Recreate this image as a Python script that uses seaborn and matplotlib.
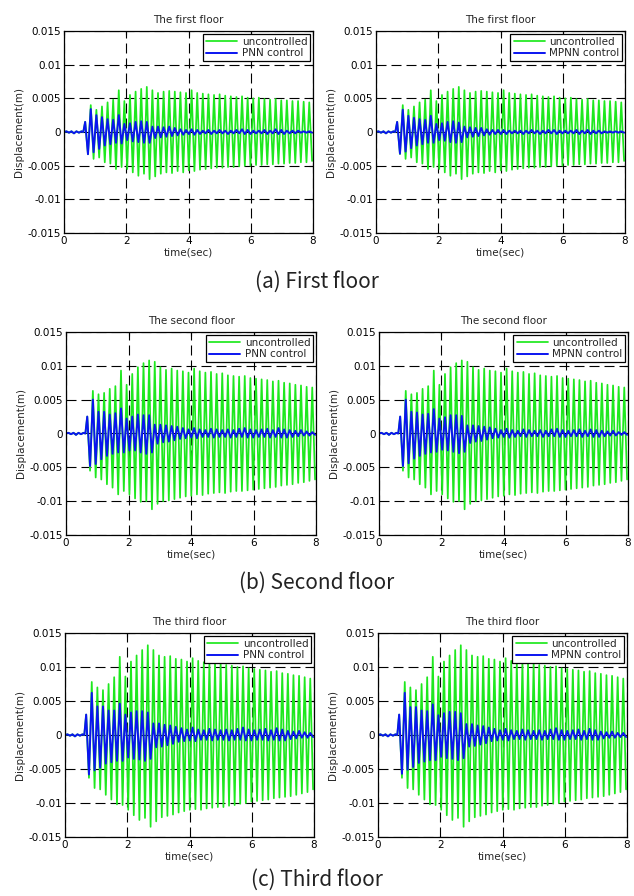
import numpy as np
import pandas as pd
import seaborn as sns
import matplotlib.pyplot as plt

# ---- data (peaks / troughs of each response) ----
pre_times = [0.0, 0.08, 0.16, 0.24, 0.32, 0.40, 0.48, 0.56, 0.62]
pre_vals = [0.0, 0.0001, -0.0001, 0.0001, -0.0002, 0.0001, -0.0001, 0.0001, 0.0]

hi_times = [0.68, 0.86, 1.04, 1.22, 1.40, 1.58, 1.76, 1.94, 2.12, 2.30, 2.48, 2.66, 2.84, 3.02,
            3.20, 3.38, 3.56, 3.74, 3.92, 4.10, 4.28, 4.46, 4.64, 4.82, 5.00, 5.18, 5.36, 5.54,
            5.72, 5.90, 6.08, 6.26, 6.44, 6.62, 6.80, 6.98, 7.16, 7.34, 7.52, 7.70, 7.88]
lo_times = [0.77, 0.95, 1.13, 1.31, 1.49, 1.67, 1.85, 2.03, 2.21, 2.39, 2.57, 2.75, 2.93, 3.11,
            3.29, 3.47, 3.65, 3.83, 4.01, 4.19, 4.37, 4.55, 4.73, 4.91, 5.09, 5.27, 5.45, 5.63,
            5.81, 5.99, 6.17, 6.35, 6.53, 6.71, 6.89, 7.07, 7.25, 7.43, 7.61, 7.79, 7.97]

# first floor
unc1_hi = [0.0015, 0.0040, 0.0033, 0.0038, 0.0044, 0.0048, 0.0062, 0.0046, 0.0055, 0.0060,
           0.0064, 0.0067, 0.0062, 0.0058, 0.0060, 0.0061, 0.0060, 0.0059, 0.0058, 0.0062,
           0.0058, 0.0057, 0.0056, 0.0055, 0.0056, 0.0054, 0.0053, 0.0052, 0.0053, 0.0051,
           0.0050, 0.0051, 0.0049, 0.0048, 0.0049, 0.0047, 0.0047, 0.0046, 0.0046, 0.0045, 0.0044]
unc1_lo = [-0.0033, -0.0040, -0.0038, -0.0045, -0.0047, -0.0055, -0.0052, -0.0055, -0.0060, -0.0065,
           -0.0062, -0.0070, -0.0066, -0.0062, -0.0060, -0.0061, -0.0058, -0.0060, -0.0057, -0.0058,
           -0.0056, -0.0055, -0.0054, -0.0053, -0.0053, -0.0052, -0.0052, -0.0051, -0.0050, -0.0050,
           -0.0049, -0.0049, -0.0048, -0.0048, -0.0047, -0.0047, -0.0046, -0.0046, -0.0045, -0.0045, -0.0043]
pnn1_hi = [0.0015, 0.0034, 0.0025, 0.0022, 0.0019, 0.0018, 0.0025, 0.0012, 0.0013, 0.0015,
           0.0016, 0.0015, 0.0008, 0.0008, 0.0007, 0.0008, 0.0006, 0.0004, 0.0003, 0.0004,
           0.0003, 0.0002, 0.0003, 0.0002, 0.0003, 0.0002, 0.0002, 0.0003, 0.0004, 0.0003,
           0.0002, 0.0002, 0.0003, 0.0002, 0.0004, 0.0003, 0.0002, 0.0002, 0.0002, 0.0001, 0.0001]
pnn1_lo = [-0.0033, -0.0030, -0.0025, -0.0020, -0.0018, -0.0016, -0.0017, -0.0012, -0.0014, -0.0015,
           -0.0016, -0.0016, -0.0009, -0.0008, -0.0007, -0.0006, -0.0005, -0.0004, -0.0003, -0.0004,
           -0.0003, -0.0002, -0.0003, -0.0002, -0.0002, -0.0003, -0.0002, -0.0002, -0.0003, -0.0003,
           -0.0002, -0.0002, -0.0003, -0.0002, -0.0003, -0.0003, -0.0002, -0.0002, -0.0001, -0.0001, -0.0001]
mpnn1_hi = [0.0015, 0.0033, 0.0024, 0.0021, 0.0019, 0.0018, 0.0024, 0.0012, 0.0013, 0.0015,
            0.0016, 0.0014, 0.0008, 0.0007, 0.0006, 0.0006, 0.0004, 0.0003, 0.0003, 0.0003,
            0.0002, 0.0002, 0.0002, 0.0002, 0.0003, 0.0002, 0.0002, 0.0003, 0.0003, 0.0002,
            0.0002, 0.0002, 0.0003, 0.0002, 0.0003, 0.0002, 0.0002, 0.0001, 0.0001, 0.0001, 0.0001]
mpnn1_lo = [-0.0032, -0.0029, -0.0024, -0.0020, -0.0018, -0.0016, -0.0016, -0.0012, -0.0013, -0.0015,
            -0.0016, -0.0015, -0.0008, -0.0007, -0.0006, -0.0005, -0.0004, -0.0003, -0.0003, -0.0003,
            -0.0002, -0.0002, -0.0003, -0.0002, -0.0002, -0.0003, -0.0002, -0.0002, -0.0003, -0.0002,
            -0.0002, -0.0002, -0.0003, -0.0002, -0.0003, -0.0002, -0.0002, -0.0001, -0.0001, -0.0001, -0.0001]

# second floor
unc2_hi = [0.0025, 0.0063, 0.0058, 0.0060, 0.0066, 0.0070, 0.0093, 0.0072, 0.0088, 0.0098,
           0.0104, 0.0108, 0.0106, 0.0098, 0.0094, 0.0096, 0.0093, 0.0092, 0.0090, 0.0096,
           0.0092, 0.0090, 0.0091, 0.0088, 0.0089, 0.0086, 0.0085, 0.0084, 0.0085, 0.0082,
           0.0081, 0.0080, 0.0079, 0.0077, 0.0078, 0.0075, 0.0074, 0.0072, 0.0071, 0.0069, 0.0068]
unc2_lo = [-0.0055, -0.0065, -0.0068, -0.0075, -0.0080, -0.0090, -0.0085, -0.0090, -0.0096, -0.0101,
           -0.0100, -0.0112, -0.0104, -0.0100, -0.0099, -0.0097, -0.0095, -0.0093, -0.0092, -0.0090,
           -0.0091, -0.0089, -0.0088, -0.0087, -0.0088, -0.0086, -0.0085, -0.0085, -0.0084, -0.0083,
           -0.0082, -0.0081, -0.0080, -0.0079, -0.0077, -0.0076, -0.0075, -0.0073, -0.0072, -0.0070, -0.0068]
pnn2_hi = [0.0025, 0.0050, 0.0032, 0.0032, 0.0028, 0.0030, 0.0037, 0.0022, 0.0025, 0.0028,
           0.0027, 0.0027, 0.0013, 0.0013, 0.0012, 0.0011, 0.0010, 0.0008, 0.0006, 0.0008,
           0.0006, 0.0005, 0.0007, 0.0006, 0.0005, 0.0006, 0.0005, 0.0007, 0.0008, 0.0006,
           0.0005, 0.0006, 0.0007, 0.0005, 0.0008, 0.0006, 0.0005, 0.0004, 0.0005, 0.0003, 0.0002]
pnn2_lo = [-0.0048, -0.0045, -0.0038, -0.0033, -0.0030, -0.0028, -0.0028, -0.0025, -0.0025, -0.0028,
           -0.0030, -0.0028, -0.0015, -0.0013, -0.0012, -0.0010, -0.0008, -0.0007, -0.0006, -0.0007,
           -0.0005, -0.0005, -0.0006, -0.0005, -0.0005, -0.0006, -0.0005, -0.0005, -0.0006, -0.0006,
           -0.0005, -0.0005, -0.0006, -0.0005, -0.0006, -0.0006, -0.0005, -0.0004, -0.0003, -0.0003, -0.0002]
mpnn2_hi = [0.0025, 0.0050, 0.0032, 0.0031, 0.0028, 0.0029, 0.0036, 0.0022, 0.0024, 0.0027,
            0.0027, 0.0026, 0.0012, 0.0012, 0.0011, 0.0010, 0.0009, 0.0007, 0.0005, 0.0007,
            0.0005, 0.0004, 0.0006, 0.0005, 0.0004, 0.0005, 0.0004, 0.0006, 0.0007, 0.0005,
            0.0004, 0.0005, 0.0006, 0.0004, 0.0006, 0.0005, 0.0004, 0.0003, 0.0004, 0.0002, 0.0002]
mpnn2_lo = [-0.0048, -0.0044, -0.0037, -0.0033, -0.0030, -0.0028, -0.0027, -0.0024, -0.0025, -0.0027,
            -0.0029, -0.0027, -0.0014, -0.0012, -0.0011, -0.0009, -0.0007, -0.0006, -0.0005, -0.0006,
            -0.0005, -0.0004, -0.0005, -0.0004, -0.0004, -0.0005, -0.0004, -0.0004, -0.0005, -0.0005,
            -0.0004, -0.0004, -0.0005, -0.0004, -0.0005, -0.0005, -0.0004, -0.0003, -0.0003, -0.0002, -0.0002]

# third floor
unc3_hi = [0.0030, 0.0078, 0.0070, 0.0066, 0.0075, 0.0085, 0.0115, 0.0086, 0.0108, 0.0117,
           0.0125, 0.0132, 0.0125, 0.0117, 0.0115, 0.0116, 0.0112, 0.0111, 0.0108, 0.0113,
           0.0109, 0.0107, 0.0108, 0.0105, 0.0106, 0.0103, 0.0102, 0.0100, 0.0101, 0.0098,
           0.0097, 0.0096, 0.0095, 0.0093, 0.0094, 0.0091, 0.0090, 0.0088, 0.0087, 0.0085, 0.0083]
unc3_lo = [-0.0063, -0.0078, -0.0080, -0.0088, -0.0095, -0.0102, -0.0103, -0.0110, -0.0118, -0.0125,
           -0.0122, -0.0135, -0.0127, -0.0121, -0.0119, -0.0117, -0.0114, -0.0112, -0.0110, -0.0109,
           -0.0110, -0.0108, -0.0107, -0.0106, -0.0106, -0.0104, -0.0103, -0.0101, -0.0100, -0.0098,
           -0.0097, -0.0096, -0.0095, -0.0093, -0.0092, -0.0091, -0.0090, -0.0088, -0.0086, -0.0084, -0.0080]
pnn3_hi = [0.0030, 0.0062, 0.0042, 0.0042, 0.0036, 0.0036, 0.0046, 0.0030, 0.0033, 0.0035,
           0.0035, 0.0033, 0.0017, 0.0017, 0.0015, 0.0014, 0.0012, 0.0010, 0.0008, 0.0011,
           0.0008, 0.0007, 0.0009, 0.0008, 0.0007, 0.0008, 0.0007, 0.0009, 0.0011, 0.0008,
           0.0007, 0.0008, 0.0009, 0.0007, 0.0010, 0.0008, 0.0006, 0.0005, 0.0006, 0.0004, 0.0003]
pnn3_lo = [-0.0058, -0.0052, -0.0048, -0.0042, -0.0040, -0.0038, -0.0038, -0.0033, -0.0035, -0.0036,
           -0.0038, -0.0035, -0.0018, -0.0017, -0.0015, -0.0013, -0.0010, -0.0009, -0.0008, -0.0009,
           -0.0007, -0.0007, -0.0008, -0.0007, -0.0007, -0.0008, -0.0007, -0.0007, -0.0008, -0.0008,
           -0.0007, -0.0007, -0.0008, -0.0007, -0.0008, -0.0008, -0.0006, -0.0005, -0.0004, -0.0004, -0.0003]
mpnn3_hi = [0.0030, 0.0062, 0.0041, 0.0041, 0.0036, 0.0035, 0.0045, 0.0029, 0.0032, 0.0034,
            0.0034, 0.0032, 0.0016, 0.0016, 0.0014, 0.0013, 0.0011, 0.0009, 0.0007, 0.0009,
            0.0007, 0.0006, 0.0008, 0.0007, 0.0006, 0.0007, 0.0006, 0.0008, 0.0010, 0.0007,
            0.0006, 0.0007, 0.0008, 0.0006, 0.0009, 0.0007, 0.0005, 0.0004, 0.0005, 0.0003, 0.0003]
mpnn3_lo = [-0.0057, -0.0051, -0.0047, -0.0041, -0.0039, -0.0037, -0.0037, -0.0032, -0.0034, -0.0035,
            -0.0037, -0.0034, -0.0017, -0.0016, -0.0014, -0.0012, -0.0009, -0.0008, -0.0007, -0.0008,
            -0.0006, -0.0006, -0.0007, -0.0006, -0.0006, -0.0007, -0.0006, -0.0006, -0.0007, -0.0007,
            -0.0006, -0.0006, -0.0007, -0.0006, -0.0007, -0.0007, -0.0005, -0.0004, -0.0004, -0.0003, -0.0003]

floor_titles = ["The first floor", "The second floor", "The third floor"]
captions = ["(a) First floor", "(b) Second floor", "(c) Third floor"]
control_names = ["PNN control", "MPNN control"]
yticks = [-0.015, -0.01, -0.005, 0, 0.005, 0.01, 0.015]
ytick_labels = ["-0.015", "-0.01", "-0.005", "0", "0.005", "0.01", "0.015"]
xticks = [0, 2, 4, 6, 8]

unc = [(unc1_hi, unc1_lo), (unc2_hi, unc2_lo), (unc3_hi, unc3_lo)]
ctrl = [[(pnn1_hi, pnn1_lo), (mpnn1_hi, mpnn1_lo)],
        [(pnn2_hi, pnn2_lo), (mpnn2_hi, mpnn2_lo)],
        [(pnn3_hi, pnn3_lo), (mpnn3_hi, mpnn3_lo)]]


def trace(hi, lo):
    """Join the quiet start with the alternating peaks and troughs."""
    t = list(pre_times)
    v = list(pre_vals)
    for th, vh, tl, vl in zip(hi_times, hi, lo_times, lo):
        t += [th, tl]
        v += [vh, vl]
    return pd.DataFrame({"time": t, "disp": v})


sns.set_style("white")
plt.rcParams["font.family"] = ["DejaVu Sans"]

W, H = 634, 896
fig = plt.figure(figsize=(W / 100, H / 100), dpi=100)

# axes boxes in pixels: (left, right) for each column, (top, bottom) per row
rows = [(31, 233, [(64, 313), (376, 625)]),
        (332, 535, [(66, 316), (379, 628)]),
        (633, 837, [(65, 314), (378, 627)])]
caption_y = [282, 583, 880]

for r, (top, bottom, cols) in enumerate(rows):
    for c, (left, right) in enumerate(cols):
        ax = fig.add_axes([left / W, 1 - bottom / H, (right - left) / W, (bottom - top) / H])
        sns.lineplot(data=trace(*unc[r]), x="time", y="disp", ax=ax, sort=False,
                     estimator=None, color="#1ee81e", lw=1.25, label="uncontrolled")
        sns.lineplot(data=trace(*ctrl[r][c]), x="time", y="disp", ax=ax, sort=False,
                     estimator=None, color="#0a14f0", lw=1.4, label=control_names[c])
        ax.set_xlim(0, 8)
        ax.set_ylim(-0.015, 0.015)
        ax.set_xticks(xticks)
        ax.set_xticklabels([str(x) for x in xticks])
        ax.set_yticks(yticks)
        ax.set_yticklabels(ytick_labels)
        ax.grid(True, color="black", linestyle=(0, (9, 4.5)), lw=0.8)
        ax.set_axisbelow(True)
        ax.tick_params(direction="in", length=3, labelsize=7.5, pad=2,
                       top=True, right=True, colors="black")
        for s in ax.spines.values():
            s.set_color("black")
            s.set_linewidth(0.9)
        ax.set_title(floor_titles[r], fontsize=7.5, pad=6)
        ax.set_xlabel("time(sec)", fontsize=7.5, labelpad=1)
        ax.set_ylabel("Displacement(m)", fontsize=7.5, labelpad=3)
        leg = ax.legend(loc="upper right", fontsize=7.5, frameon=True, fancybox=False,
                        framealpha=1, edgecolor="black", borderaxespad=0.25,
                        handlelength=3.0, handletextpad=0.4, labelspacing=0.15,
                        borderpad=0.3)
        leg.get_frame().set_linewidth(0.9)
    fig.text(0.5, 1 - caption_y[r] / H, captions[r], ha="center", va="center",
             fontsize=15, color="#222222", fontweight="light",
             family=["Noto Sans CJK KR", "DejaVu Sans"])

fig.savefig("out.png", dpi=100)
